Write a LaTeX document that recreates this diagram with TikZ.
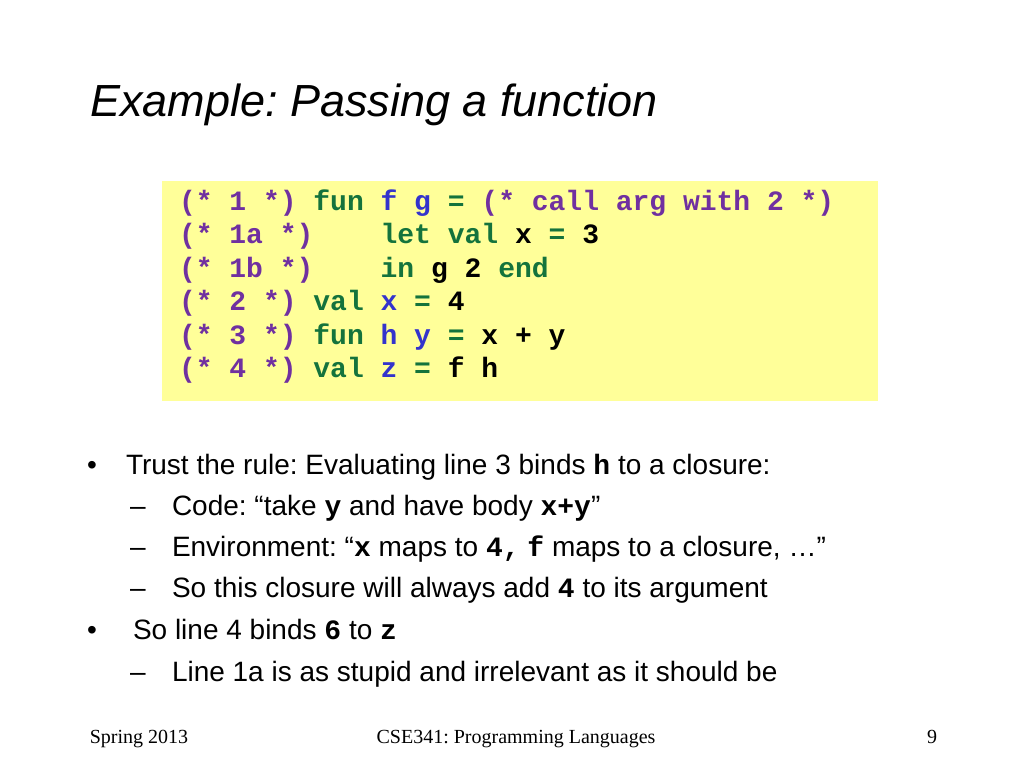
\documentclass[tikz,border=0pt]{standalone}
\usepackage{fontspec}
\setmainfont{Liberation Sans}
\setmonofont{Liberation Mono}
\newfontfamily\serifft{Liberation Serif}
\usetikzlibrary{positioning}
\definecolor{boxyellow}{RGB}{255,255,153}
\definecolor{cmtpurple}{RGB}{112,48,160}
\definecolor{kwgreen}{RGB}{20,115,60}
\definecolor{idblue}{RGB}{51,51,204}
\newcommand\cm[1]{\textcolor{cmtpurple}{#1}}
\newcommand\kw[1]{\textcolor{kwgreen}{#1}}
\newcommand\id[1]{\textcolor{idblue}{#1}}
\newcommand\mono[1]{{\ttfamily\bfseries #1}}
\frenchspacing
\tikzset{
  txt/.style={anchor=base west, inner sep=0pt, outer sep=0pt},
  titletxt/.style={txt, font=\fontsize{45}{54}\selectfont\itshape},
  codetxt/.style={txt, font=\fontsize{28}{33}\selectfont\ttfamily\bfseries},
  bodytxt/.style={txt, font=\fontsize{28}{34}\selectfont},
  foottxt/.style={inner sep=0pt, outer sep=0pt, anchor=base, font=\fontsize{20}{24}\selectfont\serifft},
  codebox/.style={fill=boxyellow, draw=none}
}
\begin{document}
\begin{tikzpicture}[x=1pt,y=-1pt]
\useasboundingbox (0,0) rectangle (1024,768);
\fill[white] (0,0) rectangle (1024,768);
% title
\node[titletxt] (title) at (90,116) {Example: Passing a function};
% code box
\path[codebox] (162,181) rectangle (878,401);
\node[codetxt] (c1) at (179,210) {\cm{(*~1~*)}~\kw{fun}~\id{f}~\id{g}~\kw{=}~\cm{(*~call~arg~with~2~*)}};
\node[codetxt] (c2) at (179,243.5) {\cm{(*~1a~*)}~~~~\kw{let}~\kw{val}~x~\kw{=}~3};
\node[codetxt] (c3) at (179,277) {\cm{(*~1b~*)}~~~~\kw{in}~g~2~\kw{end}};
\node[codetxt] (c4) at (179,310.5) {\cm{(*~2~*)}~\kw{val}~\id{x}~\kw{=}~4};
\node[codetxt] (c5) at (179,344) {\cm{(*~3~*)}~\kw{fun}~\id{h}~\id{y}~\kw{=}~x~+~y};
\node[codetxt] (c6) at (179,377.5) {\cm{(*~4~*)}~\kw{val}~\id{z}~\kw{=}~f~h};
% bullets
\node[bodytxt] (b1m) at (87,474) {\textbullet};
\node[bodytxt] (b1) at (126,474) {Trust the rule: Evaluating line 3 binds \mono{h} to a closure:};
\node[bodytxt] (s1m) at (130,515) {–};
\node[bodytxt] (s1) at (172,515) {Code: “take \mono{y} and have body \mono{x+y}”};
\node[bodytxt] (s2m) at (130,556) {–};
\node[bodytxt] (s2) at (172,556) {Environment: “\mono{x} maps to \mono{4,} \mono{f} maps to a closure, …”};
\node[bodytxt] (s3m) at (130,597) {–};
\node[bodytxt] (s3) at (172,597) {So this closure will always add \mono{4} to its argument};
\node[bodytxt] (b2m) at (87,639) {\textbullet};
\node[bodytxt] (b2) at (133,639) {So line 4 binds \mono{6} to \mono{z}};
\node[bodytxt] (s4m) at (130,681) {–};
\node[bodytxt] (s4) at (172,681) {Line 1a is as stupid and irrelevant as it should be};
% footer
\node[foottxt] (f1) at (139,743) {Spring 2013};
\node[foottxt] (f2) at (516,743) {CSE341: Programming Languages};
\node[foottxt] (f3) at (932,743) {9};
\end{tikzpicture}
\end{document}
